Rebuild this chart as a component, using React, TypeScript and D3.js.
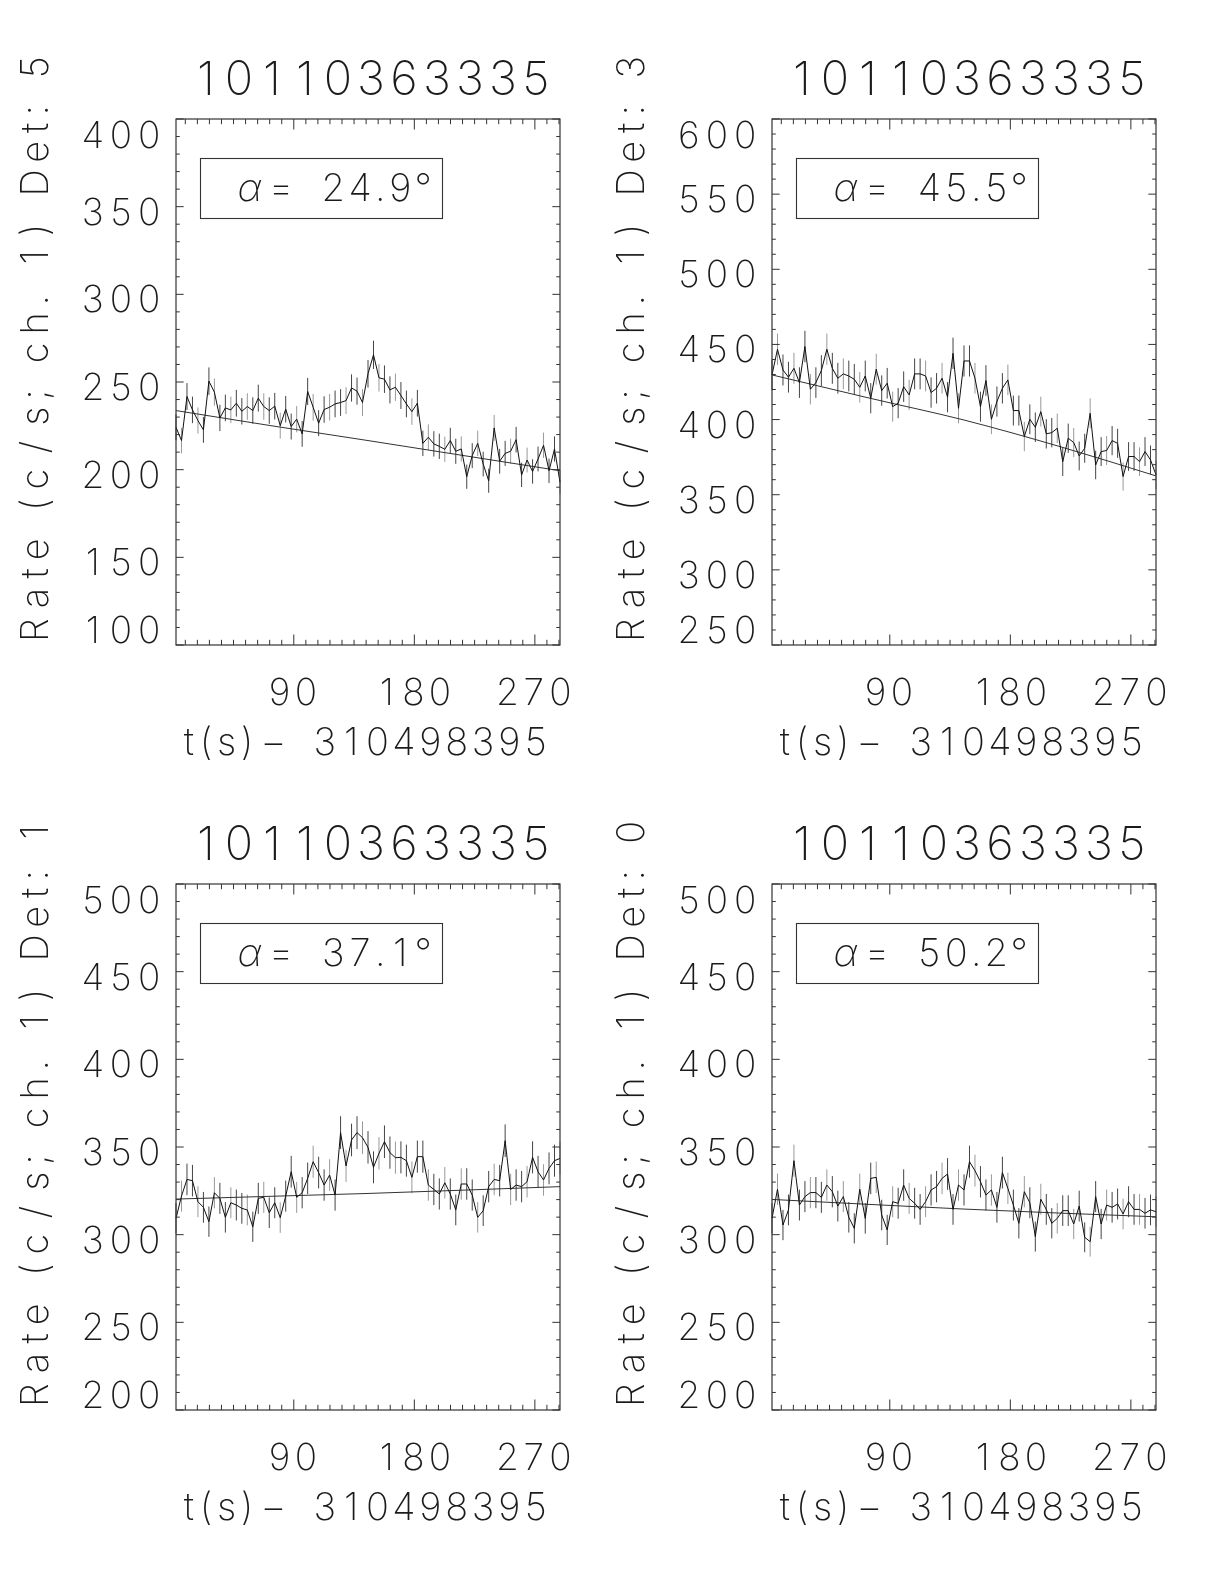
import React from "react";
import * as d3 from "d3";

// ---------- data ----------
const obsId = "10110363335";
const timeAxisTitle = "t(s)- 310498395";
const binSeconds = 4.096;
const firstBinCenter = 2.048;
const xMajorTicks = [90, 180, 270];
const xMinorStep = 9;
const yMinorStep = 10;

const channel = 1;
const detectors = [5, 3, 1, 0];
const alphaLabels = ["24.9", "45.5", "37.1", "50.2"];
const yDomains: [number, number][] = [
  [100, 400],
  [250, 600],
  [200, 500],
  [200, 500],
];
const yMajorTicks = [
  [100, 150, 200, 250, 300, 350, 400],
  [250, 300, 350, 400, 450, 500, 550, 600],
  [200, 250, 300, 350, 400, 450, 500],
  [200, 250, 300, 350, 400, 450, 500],
];

const ratesDet5 = [
  224.2, 216.6, 241.7, 234.1, 228.0, 222.7, 250.5, 244.2, 229.5, 235.2,
  234.1, 237.9, 233.3, 236.0, 233.7, 240.8, 236.0, 233.7, 236.2, 225.1,
  234.5, 224.6, 228.8, 220.4, 244.6, 235.6, 226.5, 234.3, 235.6, 237.5,
  238.3, 239.4, 246.6, 244.8, 238.3, 254.7, 265.5, 252.4, 251.6, 245.5,
  247.0, 242.3, 237.5, 233.1, 237.9, 215.0, 218.5, 214.7, 213.3, 211.6,
  216.6, 210.5, 211.8, 196.0, 208.0, 215.0, 203.2, 193.7, 223.8, 204.8,
  209.3, 210.5, 217.1, 197.0, 205.5, 199.0, 206.1, 213.9, 199.4, 211.8,
  192.8,
];
const ratesDet3 = [
  429.7, 446.8, 433.0, 428.2, 434.1, 424.6, 448.6, 420.2, 424.6, 432.6,
  446.8, 434.1, 427.5, 430.4, 429.0, 426.8, 421.5, 429.0, 414.2, 433.5,
  419.3, 424.2, 408.6, 410.9, 421.9, 416.4, 430.4, 430.4, 429.0, 418.0,
  420.8, 427.5, 414.9, 444.1, 407.5, 439.0, 439.0, 427.5, 408.6, 426.0,
  400.2, 412.0, 420.8, 426.4, 406.0, 406.0, 388.7, 400.2, 394.9, 405.3,
  390.5, 391.3, 394.2, 372.0, 387.6, 384.7, 375.8, 380.9, 404.2, 369.8,
  378.7, 379.4, 386.0, 384.2, 362.1, 375.4, 375.4, 372.0, 378.7, 373.2,
  363.2,
];
const ratesDet1 = [
  309.3, 322.0, 331.5, 330.8, 318.8, 315.6, 307.4, 323.9, 320.7, 309.9,
  318.2, 316.9, 315.0, 314.1, 304.5, 320.7, 321.3, 312.5, 318.2, 309.7,
  322.0, 335.9, 321.3, 323.9, 332.1, 341.6, 335.4, 328.3, 334.0, 322.6,
  358.2, 339.2, 354.0, 358.2, 355.3, 349.8, 338.4, 346.4, 353.0, 346.8,
  343.9, 344.1, 342.2, 332.7, 344.5, 344.5, 328.3, 325.8, 323.2, 329.6,
  323.2, 314.1, 328.9, 328.9, 322.6, 309.9, 313.7, 327.4, 331.5, 330.8,
  353.6, 325.8, 328.3, 327.4, 330.2, 344.1, 335.9, 331.2, 337.8, 342.2,
  343.5,
];
const ratesDet0 = [
  309.3, 325.9, 305.5, 314.1, 342.2, 316.9, 321.7, 324.0, 324.0, 321.3,
  328.3, 324.5, 316.3, 321.7, 309.9, 303.6, 325.9, 309.3, 332.1, 332.7,
  311.2, 302.7, 318.8, 317.9, 328.3, 320.7, 317.9, 314.4, 318.8, 325.5,
  327.4, 332.1, 334.6, 314.4, 328.3, 325.5, 341.6, 336.5, 330.2, 322.6,
  325.5, 315.6, 335.4, 326.4, 316.9, 306.5, 324.5, 318.2, 298.9, 320.2,
  314.4, 306.5, 309.3, 313.7, 313.7, 306.1, 316.3, 298.5, 296.0, 321.7,
  306.1, 316.9, 315.6, 317.5, 311.8, 318.8, 314.4, 314.4, 312.2, 314.1,
  313.1,
];
const panelRates = [ratesDet5, ratesDet3, ratesDet1, ratesDet0];

// background model, sampled at a few knot times
const backgroundTimes = [2.048, 73.7, 145.4, 217.1, 288.8];
const backgroundDet5 = [233.7, 225.0, 216.6, 208.0, 199.4];
const backgroundDet3 = [429.7, 414.5, 399.7, 382.0, 362.5];
const backgroundDet1 = [320.3, 321.9, 323.5, 325.4, 327.4];
const backgroundDet0 = [320.1, 317.3, 314.6, 312.3, 310.2];
const panelBackgrounds = [backgroundDet5, backgroundDet3, backgroundDet1, backgroundDet0];

// ---------- layout / style ----------
const PW = 384;
const PH = 526;
const panelOrigins = [
  { left: 176, top: 119 },
  { left: 772, top: 119 },
  { left: 176, top: 884 },
  { left: 772, top: 884 },
];
const FONT = "Inter, 'DejaVu Sans', sans-serif";
const INK = "#1a1a1a";
const AXIS = "#333";
const WEIGHT = 150;

// advance widths of the Hershey simplex font (font units)
const HERSHEY_W: Record<string, number> = {
  ".": 10, ":": 10, ";": 10, "(": 14, ")": 14, "/": 22, "-": 26, "=": 26,
  a: 19, c: 18, e: 18, h: 19, s: 17, t: 12, R: 21, D: 21, "α": 21, "°": 14,
};

type HProps = {
  str: string;
  x: number; // anchor position (ink)
  y: number; // baseline
  ink: number; // ink length
  anchor: "start" | "middle" | "end";
  size: number;
  space?: number;
  italicAlpha?: boolean;
};
function HText({ str, x, y, ink, anchor, size, space = 16, italicAlpha }: HProps) {
  const chars = [...str];
  const ws = chars.map((c) =>
    c === " " ? space : c >= "0" && c <= "9" ? 20 : HERSHEY_W[c] ?? 18
  );
  const total = d3.sum(ws);
  const trim = 6;
  const s = ink / (total - trim);
  const full = total * s;
  let start: number;
  if (anchor === "start") start = x - 3 * s;
  else if (anchor === "middle") start = x - full / 2;
  else start = x - full + 3 * s;
  let cum = 0;
  const out: React.ReactNode[] = [];
  chars.forEach((c, i) => {
    const cx = start + (cum + ws[i] / 2) * s;
    cum += ws[i];
    if (c === " ") return;
    const isDash = c === "-";
    out.push(
      <text
        key={i}
        x={cx}
        y={y}
        textAnchor="middle"
        fontFamily={FONT}
        fontWeight={WEIGHT}
        fontSize={size}
        fontStyle={italicAlpha && c === "α" ? "italic" : "normal"}
        fill={INK}
        {...(isDash ? { textLength: 20 * s, lengthAdjust: "spacingAndGlyphs" } : {})}
      >
        {isDash ? "\u2212" : c}
      </text>
    );
  });
  return <g>{out}</g>;
}

function Panel({ idx }: { idx: number }) {
  const { left, top } = panelOrigins[idx];
  const rates = panelRates[idx];
  const times = rates.map((_, i) => firstBinCenter + i * binSeconds);
  const x = d3
    .scaleLinear()
    .domain(d3.extent(times) as [number, number])
    .range([left, left + PW]);
  const y = d3.scaleLinear().domain(yDomains[idx]).range([top + PH, top]);

  const dataLine = d3
    .line<number>()
    .x((_, i) => x(times[i]))
    .y((d) => y(d));
  const bgLine = d3
    .line<number>()
    .x((_, i) => x(backgroundTimes[i]))
    .y((d) => y(d))
    .curve(d3.curveMonotoneX);

  const [x0, x1] = x.domain();
  const xMinor = d3.range(Math.ceil(x0 / xMinorStep) * xMinorStep, x1, xMinorStep);
  const [y0, y1] = yDomains[idx];
  const yMinor = d3.range(y0, y1 + 0.001, yMinorStep);

  const xMajLen = 10.5,
    xMinLen = 5.2,
    yMajLen = 7.7,
    yMinLen = 3.8;
  const bottom = top + PH;
  const right = left + PW;

  const cap = 27;
  const labelBaseline = (v: number) => {
    let b = y(v) + 18;
    if (b - cap < top + 2) b = top + 2 + cap;
    if (b > bottom - 2) b = bottom - 2;
    return b;
  };

  const errs = rates.map((r) => Math.sqrt(r * binSeconds) / binSeconds);
  const yTitle = `Rate (c/s; ch. ${channel}) Det: ${detectors[idx]}`;

  return (
    <g>
      {/* error bars */}
      {rates.map((r, i) => (
        <line
          key={"e" + i}
          x1={x(times[i])}
          x2={x(times[i])}
          y1={y(r - errs[i])}
          y2={y(r + errs[i])}
          stroke={i % 3 === 1 ? "#999" : "#444"}
          strokeWidth={1}
        />
      ))}
      {/* background model */}
      <path d={bgLine(panelBackgrounds[idx]) || ""} fill="none" stroke="#333" strokeWidth={1} />
      {/* data */}
      <path d={dataLine(rates) || ""} fill="none" stroke="#111" strokeWidth={1} />

      {/* box */}
      <rect x={left} y={top} width={PW} height={PH} fill="none" stroke={AXIS} strokeWidth={1.2} />

      {/* x ticks */}
      {xMinor.map((t) => {
        const major = xMajorTicks.includes(t);
        const len = major ? xMajLen : xMinLen;
        return (
          <g key={"xt" + t}>
            <line x1={x(t)} x2={x(t)} y1={bottom} y2={bottom - len} stroke={AXIS} strokeWidth={1} />
            <line x1={x(t)} x2={x(t)} y1={top} y2={top + len} stroke={AXIS} strokeWidth={1} />
          </g>
        );
      })}
      {/* y ticks */}
      {yMinor.map((v) => {
        const major = yMajorTicks[idx].includes(Math.round(v));
        const len = major ? yMajLen : yMinLen;
        return (
          <g key={"yt" + v}>
            <line x1={left} x2={left + len} y1={y(v)} y2={y(v)} stroke={AXIS} strokeWidth={1} />
            <line x1={right} x2={right - len} y1={y(v)} y2={y(v)} stroke={AXIS} strokeWidth={1} />
          </g>
        );
      })}

      {/* alpha box */}
      <rect x={left + 24.5} y={top + 39.5} width={242} height={60} fill="none" stroke={AXIS} strokeWidth={1.1} />

      <g opacity={0.995}>
        {/* title */}
        <HText str={obsId} x={left + 195} y={top - 24} ink={353} anchor="middle" size={47} />

        {/* x tick labels */}
        {xMajorTicks.map((t) => (
          <HText
            key={"xl" + t}
            str={String(t)}
            x={x(t) - 1}
            y={bottom + 60}
            ink={String(t).length * 26.5 - 8}
            anchor="middle"
            size={37}
          />
        ))}
        {/* y tick labels */}
        {yMajorTicks[idx].map((v) => (
          <HText
            key={"yl" + v}
            str={String(v)}
            x={left - 17}
            y={labelBaseline(v)}
            ink={76}
            anchor="end"
            size={37}
          />
        ))}

        {/* x title */}
        <HText str={timeAxisTitle} x={left + 189} y={bottom + 110} ink={360} anchor="middle" size={38} />

        {/* y title */}
        <g transform={`translate(${left - 128},${top + 230}) rotate(-90)`}>
          <HText str={yTitle} x={0} y={0} ink={586} anchor="middle" size={38} space={12} />
        </g>

        {/* alpha label */}
        <HText
          str={`α= ${alphaLabels[idx]}°`}
          x={left + 24.5 + 39}
          y={top + 39.5 + 42.5}
          ink={189}
          anchor="start"
          size={38}
          italicAlpha
        />
      </g>
    </g>
  );
}

export default function App() {
  return (
    <svg
      width={1224}
      height={1584}
      viewBox="0 0 1224 1584"
      style={{ position: "absolute", left: 0, top: 0, background: "#fff" }}
    >
      <rect x={0} y={0} width={1224} height={1584} fill="#fff" />
      {panelOrigins.map((_, i) => (
        <Panel key={i} idx={i} />
      ))}
    </svg>
  );
}
